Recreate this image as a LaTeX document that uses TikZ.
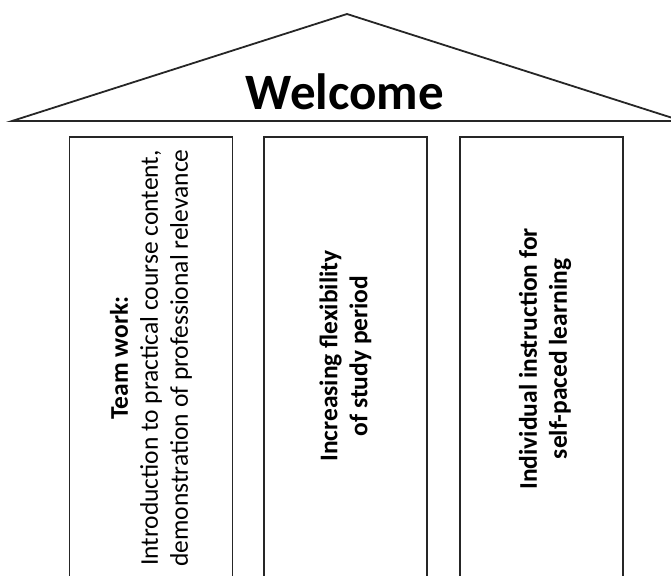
\documentclass[tikz,border=0pt]{standalone}
\usepackage{fontspec}
\setmainfont{Carlito}
\begin{document}
\begin{tikzpicture}[x=1pt,y=-1pt,
  line/.style={draw=black!85,line width=1.8pt},
  pillar/.style={line,minimum width=163pt,minimum height=450pt,anchor=north,inner sep=0pt},
  pillartext/.style={rotate=90,align=center,font=\fontsize{25.5}{30}\selectfont,inner sep=0pt}]
\useasboundingbox (0,0) rectangle (671,575);
\coordinate (roofL) at (12,121);
\coordinate (roofT) at (347,14);
\coordinate (roofR) at (682,121);
\draw[line,line join=miter] (roofL) -- (roofT) -- (roofR) -- cycle;
\node[font=\fontsize{51}{54}\selectfont\bfseries,anchor=base] (welcome) at (345,110) {Welcome};
\node[pillar] (p1) at (151,136) {};
\node[pillar] (p2) at (345.5,136) {};
\node[pillar] (p3) at (541.5,136) {};
\node[pillartext] (t1) at (151,358) {\textbf{Team work:}\\Introduction to practical course content,\\demonstration of professional relevance};
\node[pillartext,font=\fontsize{25.5}{30}\selectfont\bfseries] (t2) at (345.5,356) {Increasing flexibility\\of study period};
\node[pillartext,font=\fontsize{25.5}{30}\selectfont\bfseries] (t3) at (545,359) {Individual instruction for\\self-paced learning};
\end{tikzpicture}
\end{document}
